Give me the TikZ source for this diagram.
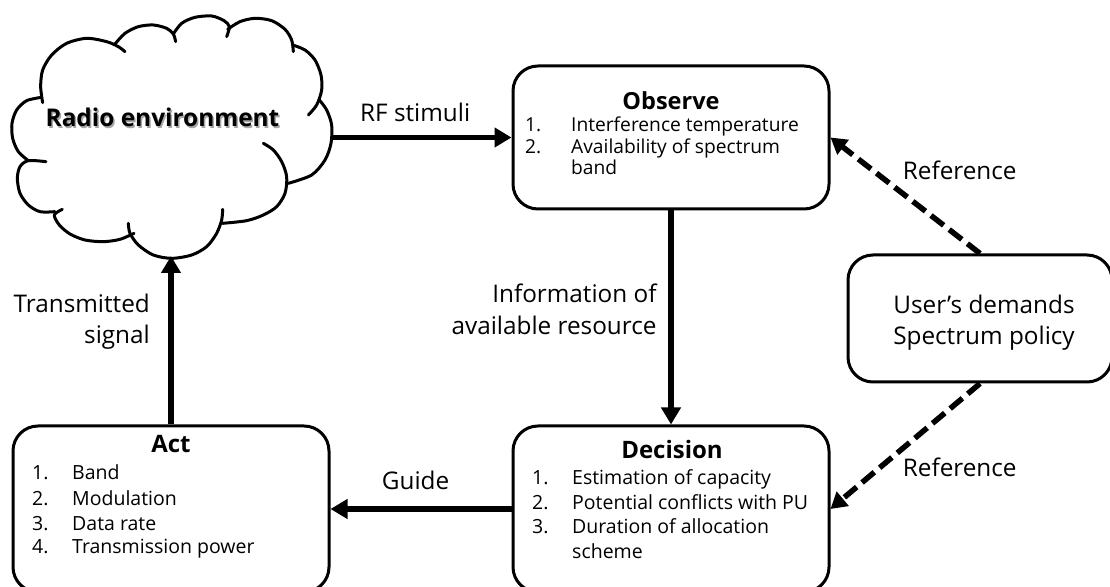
\documentclass[tikz,border=0pt]{standalone}
\usepackage{fontspec}
\setmainfont{Open Sans}
\usetikzlibrary{arrows.meta}
\newcommand{\fs}[1]{\fontsize{#1}{#1}\selectfont}
\tikzset{
  box/.style={draw, line width=3pt, rounded corners=25pt, inner sep=0pt},
  arr/.style={line width=5.5pt, -{Triangle[length=17pt,width=19pt]}},
  darr/.style={line width=5.5pt, dash pattern=on 16pt off 7pt, -{Triangle[length=16pt,width=18pt]}},
  lbl/.style={inner sep=0pt, font=\fs{24.3}},
  small/.style={inner sep=0pt, font=\fs{19.2}},
  mid/.style={inner sep=0pt, font=\fs{19.5}},
  ttl/.style={inner sep=0pt, font=\bfseries\fs{24}},
  cl/.style={line width=3pt, line cap=round, line join=round}
}
\begin{document}
\begin{tikzpicture}[x=1pt, y=1pt]
\useasboundingbox (0,0) rectangle (1110,586);
\clip (0,0) rectangle (1110,586);
\fill[white] (0,0) rectangle (1110,586);

% cloud
\begin{scope}[shift={(0pt,576pt)}, x=0.33333pt, y=-0.33333pt]
\draw[cl] plot[smooth] coordinates {(85,452) (55,425) (38,385) (36,340) (50,300) (80,272) (125,262)};
\draw[cl] plot[smooth] coordinates {(128,278) (122,230) (128,180) (155,135) (200,100) (260,85) (320,95) (355,110) (375,125)};
\draw[cl] plot[smooth] coordinates {(345,102) (375,70) (415,50) (460,45) (500,55) (520,72) (527,95)};
\draw[cl] plot[smooth] coordinates {(520,72) (545,40) (585,22) (635,18) (672,32) (688,50) (680,80)};
\draw[cl] plot[smooth] coordinates {(683,58) (720,35) (765,25) (815,32) (855,58) (875,90) (880,125)};
\draw[cl] plot[smooth] coordinates {(878,105) (915,120) (945,150) (963,195) (965,240) (950,285) (925,315)};
\draw[cl] plot[smooth] coordinates {(958,270) (980,300) (995,345) (993,400) (975,450) (935,495) (865,520)};
\draw[cl] plot[smooth] coordinates {(790,400) (820,420) (845,455) (860,500) (855,550) (830,590) (790,615) (740,632) (668,640)};
\draw[cl] plot[smooth] coordinates {(668,598) (665,630) (650,670) (620,710) (575,735) (515,745) (460,735) (415,705) (390,670) (385,640)};
\draw[cl] plot[smooth] coordinates {(402,670) (360,688) (310,695) (255,690) (210,672) (178,645) (163,615) (187,598)};
\draw[cl] plot[smooth] coordinates {(165,605) (120,605) (85,585) (60,550) (52,505) (60,470) (85,452) (138,455)};
\end{scope}
\node[inner sep=0pt, anchor=base, font=\bfseries\fs{24.4}, text=black!35] (envsh) at (164,457.8) {Radio environment};
\node[inner sep=0pt, anchor=base, font=\bfseries\fs{24.4}] (envt) at (162.5,459.3) {Radio environment};
\coordinate (envE) at (331,448.5);
\coordinate (envS) at (171,330);

% boxes
\node[box, minimum width=316pt, minimum height=143pt] (obs) at (671,448.5) {};
\node[box, minimum width=316pt, minimum height=166pt] (dec) at (671,77) {};
\node[box, minimum width=316pt, minimum height=166pt] (act) at (171,77) {};
\node[box, minimum width=264pt, minimum height=127pt] (usr) at (980,267.5) {};

% observe text
\node[ttl, anchor=base, font=\bfseries\fs{23.5}] (obsT) at (671,476) {Observe};
\node[small, anchor=base west] (o1n) at (525,454.3) {1.};
\node[small, anchor=base west] (o1) at (571,454.3) {Interference temperature};
\node[small, anchor=base west] (o2n) at (525,432.6) {2.};
\node[small, anchor=base west] (o2) at (571,432.6) {Availability of spectrum};
\node[small, anchor=base west] (o3) at (571,411) {band};

% decision text
\node[ttl, anchor=base] (decT) at (672,127.7) {Decision};
\node[mid, anchor=base west] (d1n) at (532,101) {1.};
\node[mid, anchor=base west] (d1) at (572,101) {Estimation of capacity};
\node[mid, anchor=base west] (d2n) at (532,76) {2.};
\node[mid, anchor=base west] (d2) at (572,76) {Potential conflicts with PU};
\node[mid, anchor=base west] (d3n) at (532,52.7) {3.};
\node[mid, anchor=base west] (d3) at (572,52.7) {Duration of allocation};
\node[mid, anchor=base west] (d4) at (572,27.7) {scheme};

% act text
\node[ttl, anchor=base] (actT) at (171,133) {Act};
\node[mid, anchor=base west] (a1n) at (32,106.7) {1.};
\node[mid, anchor=base west] (a1) at (72,106.7) {Band};
\node[mid, anchor=base west] (a2n) at (32,81) {2.};
\node[mid, anchor=base west] (a2) at (72,81) {Modulation};
\node[mid, anchor=base west] (a3n) at (32,56) {3.};
\node[mid, anchor=base west] (a3) at (72,56) {Data rate};
\node[mid, anchor=base west] (a4n) at (32,32.7) {4.};
\node[mid, anchor=base west] (a4) at (72,32.7) {Transmission power};

% user text
\node[lbl, anchor=base] (u1) at (984,272.7) {User’s demands};
\node[lbl, anchor=base] (u2) at (984,241) {Spectrum policy};

% connectors
\draw[arr] (envE) -- (obs.west);
\draw[arr] (obs.south) -- (dec.north);
\draw[arr] (dec.west) -- (act.east);
\draw[arr] (act.north) -- (envS);
\draw[darr] (usr.north) -- (obs.east);
\draw[darr] (usr.south) -- (dec.east);

% labels
\node[lbl, anchor=base west] (rf) at (360,464.3) {RF stimuli};
\node[lbl, anchor=base east] (inf1) at (656.7,283.3) {Information of\ };
\node[lbl, anchor=base east] (inf2) at (656.7,251) {available resource};
\node[lbl, anchor=base east] (tr1) at (150,273.3) {Transmitted};
\node[lbl, anchor=base east] (tr2) at (150,242) {signal};
\node[lbl, anchor=base west] (gd) at (381.7,96) {Guide};
\node[lbl, anchor=base west] (ref1) at (902.7,406) {Reference};
\node[lbl, anchor=base west] (ref2) at (902.7,109.3) {Reference};
\end{tikzpicture}
\end{document}
